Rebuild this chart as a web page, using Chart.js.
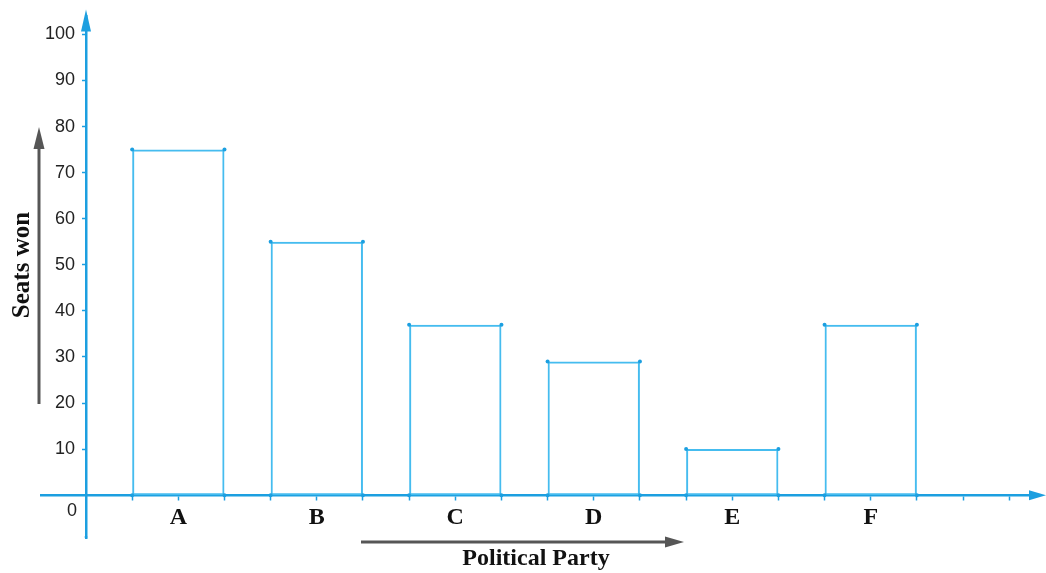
<!DOCTYPE html>
<html>
<head>
<meta charset="utf-8">
<script src="https://cdn.jsdelivr.net/npm/chart.js@4.4.1/dist/chart.umd.min.js"></script>
<style>
  html, body { margin: 0; padding: 0; background: #fff; }
  #wrap { width: 1046px; height: 573px; }
</style>
</head>
<body>
<div id="wrap"><canvas id="seatsChart" width="1046" height="573"></canvas></div>
<script>
const parties = ['A', 'B', 'C', 'D', 'E', 'F'];
const seatsWon = [75, 55, 37, 29, 10, 37];
const yTickValues = [10, 20, 30, 40, 50, 60, 70, 80, 90, 100];
const xTitle = 'Political Party';
const yTitle = 'Seats won';

const axisBlue = '#1c9fe0';
const barBlue = '#45bcef';
const arrowGrey = '#565656';
const barHalf = 1 / 3; // bars span one third either side of the category

// bar data on a linear x axis: party i sits at x = i + 1
const barPoints = parties.map((p, i) => ({ x: i + 1, y: seatsWon[i] }));

// little dots on the bar corners
const cornerPoints = [];
barPoints.forEach(pt => {
    cornerPoints.push({ x: pt.x - barHalf, y: pt.y });
    cornerPoints.push({ x: pt.x + barHalf, y: pt.y });
    cornerPoints.push({ x: pt.x - barHalf, y: 0 });
    cornerPoints.push({ x: pt.x + barHalf, y: 0 });
});

function isWhole(v) {
    return Math.abs(v - Math.round(v)) < 1e-6;
}

function drawArrow(ctx, x1, y1, x2, y2, headLen, headHalf, color, lineWidth) {
    const ang = Math.atan2(y2 - y1, x2 - x1);
    const bx = x2 - Math.cos(ang) * headLen;
    const by = y2 - Math.sin(ang) * headLen;
    ctx.save();
    ctx.strokeStyle = color;
    ctx.fillStyle = color;
    ctx.lineWidth = lineWidth;
    ctx.beginPath();
    ctx.moveTo(x1, y1);
    ctx.lineTo(bx, by);
    ctx.stroke();
    ctx.beginPath();
    ctx.moveTo(x2, y2);
    ctx.lineTo(bx - Math.sin(ang) * headHalf, by + Math.cos(ang) * headHalf);
    ctx.lineTo(bx + Math.sin(ang) * headHalf, by - Math.cos(ang) * headHalf);
    ctx.closePath();
    ctx.fill();
    ctx.restore();
}

const decorations = {
    id: 'decorations',
    afterDraw(chart) {
        const ctx = chart.ctx;
        const xs = chart.scales.x;
        const ys = chart.scales.y;
        const ax = xs.getPixelForValue(barHalf);
        const ay = ys.getPixelForValue(0);
        const topY = ys.getPixelForValue(100);

        ctx.save();
        // x axis runs on a little past the y axis to the left
        ctx.strokeStyle = axisBlue;
        ctx.lineWidth = 2.5;
        ctx.beginPath();
        ctx.moveTo(40, ay);
        ctx.lineTo(ax, ay);
        ctx.stroke();
        // y axis reaches down below the x axis
        ctx.beginPath();
        ctx.moveTo(ax, ys.bottom - 2);
        ctx.lineTo(ax, 538);
        ctx.stroke();

        // axis arrowheads
        ctx.fillStyle = axisBlue;
        ctx.beginPath();
        ctx.moveTo(ax, topY - 25);
        ctx.lineTo(ax - 5, topY - 3);
        ctx.lineTo(ax + 5, topY - 3);
        ctx.closePath();
        ctx.fill();
        ctx.beginPath();
        ctx.moveTo(chart.width, ay);
        ctx.lineTo(chart.width - 17, ay - 5);
        ctx.lineTo(chart.width - 17, ay + 5);
        ctx.closePath();
        ctx.fill();
        ctx.restore();

        // the zero label sits below the x axis
        ctx.save();
        ctx.font = '18px "Liberation Sans", Arial, sans-serif';
        ctx.fillStyle = '#222';
        ctx.textAlign = 'right';
        ctx.textBaseline = 'middle';
        ctx.fillText('0', ax - 9, ay + 16);
        ctx.restore();

        // x title with its arrow
        ctx.save();
        ctx.font = 'bold 24px "Liberation Serif", "Times New Roman", serif';
        ctx.fillStyle = '#111';
        ctx.textAlign = 'center';
        ctx.textBaseline = 'alphabetic';
        ctx.fillText(xTitle, 536, 565);
        ctx.restore();
        drawArrow(ctx, 361, 542, 684, 542, 19, 5.5, arrowGrey, 3);

        // y title with its arrow
        ctx.save();
        ctx.translate(29, 265);
        ctx.rotate(-Math.PI / 2);
        ctx.font = 'bold 25px "Liberation Serif", "Times New Roman", serif';
        ctx.fillStyle = '#111';
        ctx.textAlign = 'center';
        ctx.textBaseline = 'alphabetic';
        ctx.fillText(yTitle, 0, 0);
        ctx.restore();
        drawArrow(ctx, 39, 404, 39, 127, 22, 5.5, arrowGrey, 3);
    }
};

const ctx = document.getElementById('seatsChart').getContext('2d');
const chart = new Chart(ctx, {
    type: 'bar',
    data: {
        datasets: [{
            label: 'Seats won',
            data: barPoints,
            backgroundColor: 'rgba(255, 255, 255, 0)',
            borderColor: barBlue,
            borderWidth: 2,
            borderSkipped: false,
            barPercentage: 1,
            categoryPercentage: 2, // ruler step is one tick (1/3), bar is two ticks wide
            order: 2
        }, {
            type: 'scatter',
            label: 'corners',
            data: cornerPoints,
            pointRadius: 2,
            pointBackgroundColor: axisBlue,
            pointBorderWidth: 0,
            order: 1
        }]
    },
    options: {
        responsive: false,
        animation: false,
        layout: {
            padding: { left: 0, right: 16, top: 15, bottom: 35 }
        },
        plugins: {
            legend: { display: false },
            tooltip: { enabled: false }
        },
        scales: {
            x: {
                type: 'linear',
                position: { y: 0 },
                offset: false,
                min: barHalf,
                max: 7.15,
                afterBuildTicks: axis => {
                    const ticks = [];
                    for (let k = 2; k <= 21; k++) ticks.push({ value: k / 3 });
                    axis.ticks = ticks;
                },
                grid: {
                    offset: false,
                    drawOnChartArea: false,
                    drawTicks: true,
                    tickLength: 4,
                    tickColor: axisBlue,
                    tickWidth: 1.5
                },
                border: { display: true, color: axisBlue, width: 2.5 },
                ticks: {
                    autoSkip: false,
                    maxRotation: 0,
                    padding: 4,
                    color: '#111',
                    font: { family: '"Liberation Serif", "Times New Roman", serif', size: 24, weight: 'bold' },
                    callback: v => (isWhole(v) && v >= 1 && v <= parties.length) ? parties[Math.round(v) - 1] : ''
                }
            },
            y: {
                type: 'linear',
                position: 'left',
                min: -9.3,
                max: 104,
                afterFit: axis => { axis.width = 86; },
                afterBuildTicks: axis => {
                    axis.ticks = yTickValues.map(v => ({ value: v }));
                },
                grid: {
                    drawOnChartArea: false,
                    drawTicks: true,
                    tickLength: 4,
                    tickColor: axisBlue,
                    tickWidth: 1.5
                },
                border: { display: true, color: axisBlue, width: 2.5 },
                ticks: {
                    padding: 7,
                    color: '#222',
                    font: { family: '"Liberation Sans", Arial, sans-serif', size: 18, lineHeight: 1 },
                    callback: v => String(v)
                }
            }
        }
    },
    plugins: [decorations]
});
</script>
</body>
</html>
